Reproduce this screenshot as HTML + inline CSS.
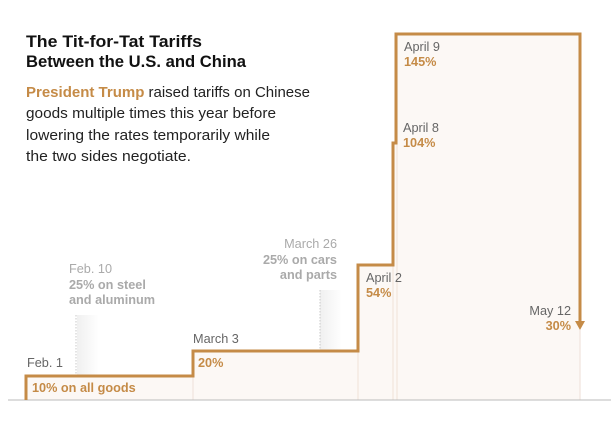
<!DOCTYPE html>
<html><head><style>
body{margin:0;background:#fff;width:611px;height:433px;overflow:hidden}
svg text{font-family:"Liberation Sans",sans-serif}
</style></head><body>
<svg width="611" height="433" viewBox="0 0 611 433">
<defs><linearGradient id="g" x1="0" x2="1" y1="0" y2="0"><stop offset="0" stop-color="#f0f0f0"/><stop offset="1" stop-color="#f0f0f0" stop-opacity="0"/></linearGradient></defs>
<path d="M26,400 V376 H193 V351 H358 V265 H393 V143 H396 V34 H580 V400 Z" fill="#fcf8f5"/>
<g stroke="#f3e9e2" stroke-width="1.5">
<line x1="193" y1="351" x2="193" y2="400"/><line x1="358" y1="265" x2="358" y2="400"/>
<line x1="393" y1="143" x2="393" y2="400"/><line x1="397" y1="34" x2="397" y2="400"/>
<line x1="580" y1="330" x2="580" y2="400"/>
</g>
<rect x="77" y="315" width="22" height="61" fill="url(#g)"/>
<rect x="320" y="290" width="22" height="61" fill="url(#g)"/>
<line x1="76" y1="315" x2="76" y2="376" stroke="#c8c8c8" stroke-dasharray="1.5,1.5"/>
<line x1="320" y1="290" x2="320" y2="351" stroke="#c8c8c8" stroke-dasharray="1.5,1.5"/>
<line x1="8" y1="400" x2="611" y2="400" stroke="#bbb" stroke-width="1"/>
<path d="M26,400 V376 H193 V351 H358 V265 H393 V143 H396 V34 H580 V322" fill="none" stroke="#c58b47" stroke-width="3"/>
<path d="M575,321 L585,321 L580,330 Z" fill="#c58b47"/>
<g font-weight="bold" font-size="17" fill="#111"><text x="26" y="47" textLength="176" lengthAdjust="spacingAndGlyphs">The Tit-for-Tat Tariffs</text><text x="26" y="67" textLength="220" lengthAdjust="spacingAndGlyphs">Between the U.S. and China</text></g>
<g font-size="15" fill="#222">
<text x="26" y="97" textLength="284" lengthAdjust="spacingAndGlyphs"><tspan fill="#c58b47" font-weight="bold">President Trump</tspan> raised tariffs on Chinese</text>
<text x="26" y="118" textLength="250" lengthAdjust="spacingAndGlyphs">goods multiple times this year before</text>
<text x="26" y="140" textLength="244" lengthAdjust="spacingAndGlyphs">lowering the rates temporarily while</text>
<text x="26" y="161" textLength="165" lengthAdjust="spacingAndGlyphs">the two sides negotiate.</text>
</g>
<g font-size="12.7">
<text x="27" y="367" fill="#666">Feb. 1</text>
<text x="32" y="392" fill="#c58b47" font-weight="bold">10% on all goods</text>
<text x="69" y="273" fill="#aaa">Feb. 10</text>
<text x="69" y="289" fill="#aaa" font-weight="bold">25% on steel</text>
<text x="69" y="304" fill="#aaa" font-weight="bold">and aluminum</text>
<text x="193" y="343" fill="#666">March 3</text>
<text x="198" y="367" fill="#c58b47" font-weight="bold">20%</text>
<g text-anchor="end"><text x="337" y="248" fill="#aaa">March 26</text>
<text x="337" y="264" fill="#aaa" font-weight="bold">25% on cars</text>
<text x="337" y="279" fill="#aaa" font-weight="bold">and parts</text>
<text x="571" y="315" fill="#666">May 12</text>
<text x="571" y="330" fill="#c58b47" font-weight="bold">30%</text></g>
<text x="366" y="282" fill="#666">April 2</text>
<text x="366" y="297" fill="#c58b47" font-weight="bold">54%</text>
<text x="404" y="51" fill="#666">April 9</text>
<text x="404" y="66" fill="#c58b47" font-weight="bold">145%</text>
<text x="403" y="132" fill="#666">April 8</text>
<text x="403" y="147" fill="#c58b47" font-weight="bold">104%</text>
</g>
</svg>
</body></html>
